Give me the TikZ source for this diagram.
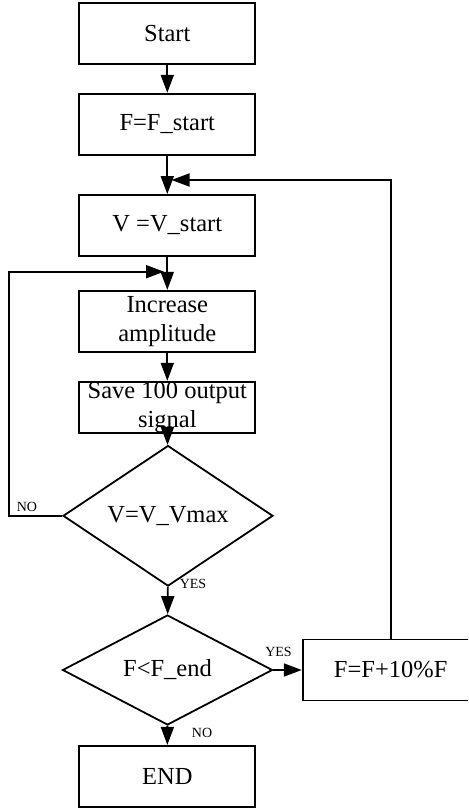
\documentclass[tikz,border=0pt]{standalone}
\usepackage{fontspec}
\setmainfont{Liberation Serif}
\usetikzlibrary{shapes.geometric,arrows.meta}
\begin{document}
\begin{tikzpicture}[x=1pt,y=-1pt,
 box/.style={draw,line width=1.8pt,minimum width=176pt,minimum height=61pt,inner sep=0pt,font=\fontsize{24.5}{29}\selectfont,align=center},
 dia/.style={draw,diamond,line width=1.8pt,minimum width=210pt,minimum height=115pt,inner sep=0pt,font=\fontsize{24.5}{29}\selectfont},
 txt/.style={inner sep=0pt,font=\fontsize{24.5}{29}\selectfont,align=center},
 arr/.style={line width=1.8pt,-{Triangle[length=18pt,width=13pt]}},
 lab/.style={font=\fontsize{14}{16}\selectfont,inner sep=0pt}]
\clip (0,0) rectangle (468,810);
\node[box] (start) at (167.3,33.3) {Start};
\node[box] (fstart) at (167.3,124.2) {F=F\_start};
\node[box] (vstart) at (167.3,225.5) {V =V\_start};
\node[box] (inc) at (167.3,321.3) {Increase\\amplitude};
\node[box,minimum height=51pt] (save) at (167.3,407.2) {};
\node[txt] (savetxt) at (167.3,407.2) {Save 100 output\\signal};
\node[dia] (d1) at (168,515.8) {V=V\_Vmax};
\node[dia,minimum height=110pt] (d2) at (167.5,670) {F<F\_end};
\node[box] (inc10) at (390.7,670) {F=F+10\%F};
\node[box] (end) at (167.3,776.3) {END};
\coordinate (fbend) at (171.5,180);
\coordinate (noend) at (164,271.7);
\coordinate (noleft) at (9.3,515.8);
\draw[arr] (start) -- (fstart);
\draw[arr] (fstart) -- (vstart);
\draw[arr] (vstart) -- (inc);
\draw[arr] (inc) -- (save);
\draw[arr] (save) -- (d1);
\draw[arr] (d1) -- (d2);
\draw[arr] (d2) -- (inc10);
\draw[arr] (d2) -- (end);
\draw[arr] (inc10.north) |- (fbend);
\draw[arr] (d1.west) -- (noleft) |- (noend);
\node[lab] (lno1) at (27,507) {NO};
\node[lab] (lyes1) at (193,584) {YES};
\node[lab] (lyes2) at (278.5,652.3) {YES};
\node[lab] (lno2) at (202,733) {NO};
\end{tikzpicture}
\end{document}
